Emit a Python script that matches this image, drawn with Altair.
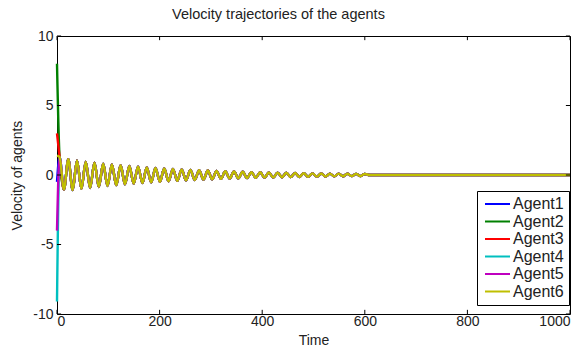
import altair as alt
import pandas as pd

agents = ["Agent1", "Agent2", "Agent3", "Agent4", "Agent5", "Agent6"]
colors = ["#0000FF", "#008000", "#FF0000", "#00BFBF", "#BF00BF", "#BFBF00"]
initial_values = [-0.5, 8.0, 3.0, -9.1, -4.0, 1.4]

# common (consensus) trajectory: successive peaks / troughs
ext_t = [5, 13.5, 22, 30.5, 39, 47.5, 56, 64.5, 73, 81.5, 90, 98.5, 107, 115.5,
         124, 132.5, 141, 149.5, 158, 166.5, 175, 183.5, 192, 200.5, 209, 217.5,
         226, 234.5, 243, 251.5, 260, 268.5, 277, 285.5, 294, 302.5, 311, 319.5,
         328, 336.5, 345, 353.5, 362, 370.5, 379, 387.5, 396, 404.5, 413, 421.5,
         430, 438.5, 447, 455.5, 464, 472.5, 481, 489.5, 498, 506.5, 515, 523.5,
         532, 540.5, 549, 557.5, 566, 574.5, 583, 591.5, 600]
ext_v = [1.30, -1.05, 1.13, -1.08, 1.04, -1.00, 0.96, -0.93, 0.89, -0.86, 0.82, -0.79,
         0.76, -0.73, 0.70, -0.67, 0.65, -0.62, 0.60, -0.58, 0.55, -0.53, 0.51, -0.49,
         0.47, -0.45, 0.44, -0.42, 0.40, -0.39, 0.37, -0.36, 0.34, -0.33, 0.32, -0.31,
         0.29, -0.28, 0.27, -0.26, 0.25, -0.24, 0.23, -0.22, 0.21, -0.21, 0.20, -0.19,
         0.18, -0.18, 0.17, -0.16, 0.16, -0.15, 0.14, -0.14, 0.13, -0.13, 0.12, -0.12,
         0.11, -0.11, 0.10, -0.10, 0.10, -0.09, 0.09, -0.08, 0.08, -0.08, 0.07]
tail_t = [609, 1000]
tail_v = [0.0, 0.0]

x_ticks = [0, 200, 400, 600, 800, 1000]
y_ticks = [-10, -5, 0, 5, 10]

assert len(ext_t) == len(ext_v)

rows = []
for a, v0 in zip(agents, initial_values):
    rows.append({"agent": a, "t": 0, "v": v0})
    for t, v in zip(ext_t + tail_t, ext_v + tail_v):
        rows.append({"agent": a, "t": t, "v": v})
df = pd.DataFrame(rows)

FONT = "Liberation Sans"
xs = alt.Scale(domain=[0, 1000], nice=False, zero=False)
ys = alt.Scale(domain=[-10, 10], nice=False, zero=False)
cs = alt.Scale(domain=agents, range=colors)
x_axis = alt.Axis(values=x_ticks, title="Time", labelExpr="'' + datum.value")
y_axis = alt.Axis(values=y_ticks, title="Velocity of agents", labelExpr="'' + datum.value")

layers = []
for a in agents:
    layers.append(
        alt.Chart(df[df["agent"] == a])
        .mark_line(strokeWidth=2.4, interpolate="monotone")
        .encode(
            x=alt.X("t:Q", scale=xs, axis=x_axis),
            y=alt.Y("v:Q", scale=ys, axis=y_axis),
            color=alt.Color("agent:N", scale=cs, legend=alt.Legend(title=None)),
        )
    )

xt = pd.DataFrame({"t": x_ticks})
yt = pd.DataFrame({"v": y_ticks})
tick_style = dict(color="black", strokeWidth=1)
ticks = [
    alt.Chart(xt).mark_rule(**tick_style).encode(x=alt.X("t:Q", scale=xs, axis=x_axis), y=alt.datum(-10), y2=alt.datum(-9.7)),
    alt.Chart(xt).mark_rule(**tick_style).encode(x=alt.X("t:Q", scale=xs, axis=x_axis), y=alt.datum(10), y2=alt.datum(9.7)),
    alt.Chart(yt).mark_rule(**tick_style).encode(y=alt.Y("v:Q", scale=ys, axis=y_axis), x=alt.datum(0), x2=alt.datum(8)),
    alt.Chart(yt).mark_rule(**tick_style).encode(y=alt.Y("v:Q", scale=ys, axis=y_axis), x=alt.datum(1000), x2=alt.datum(992)),
]

chart = (
    alt.layer(*layers, *ticks)
    .properties(
        width=513,
        height=278,
        autosize=alt.AutoSizeParams(type="none"),
        padding={"left": 57, "top": 36, "right": 17, "bottom": 34},
        title=alt.TitleParams(
            "Velocity trajectories of the agents",
            fontSize=14.5, fontWeight="normal", font=FONT, color="#222222",
            anchor="middle", dx=-35, offset=7,
        ),
        background="white",
    )
    .configure_view(stroke="black", strokeWidth=1)
    .configure_axis(
        domain=False, ticks=False, grid=False,
        labelFont=FONT, labelFontSize=14, labelColor="#222222",
        titleFont=FONT, titleFontSize=14, titleColor="#222222", titleFontWeight="normal",
    )
    .configure_axisX(labelPadding=0, titlePadding=5)
    .configure_axisY(labelPadding=4, titlePadding=8)
    .configure_legend(
        orient="none", legendX=420, legendY=155,
        strokeColor="black", fillColor="white", padding=5, cornerRadius=0,
        symbolType="M-1.0,0H4.0", symbolSize=100, symbolStrokeWidth=2,
        labelFont=FONT, labelFontSize=16, labelColor="#222222", labelOffset=15,
        rowPadding=1.5,
    )
)

chart.save("out.html", embed_options={"renderer": "svg", "actions": False})
